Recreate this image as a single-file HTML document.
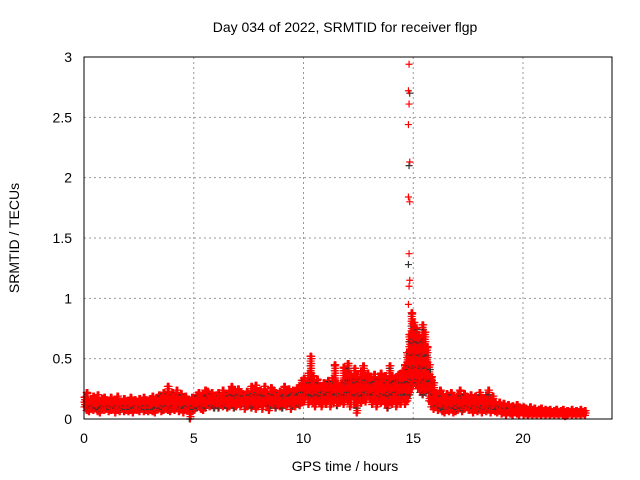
<!DOCTYPE html>
<html><head><meta charset="utf-8"><style>
body{margin:0;background:#fff;}
svg{display:block;font-family:"Liberation Sans",sans-serif;}
</style></head><body>
<svg id="c" width="640" height="480">
<text x="345" y="32" font-size="14" text-anchor="middle">Day 034 of 2022, SRMTID for receiver flgp</text>
<text x="345" y="471" font-size="14" text-anchor="middle">GPS time / hours</text>
<text transform="translate(19,238) rotate(-90)" font-size="14" text-anchor="middle">SRMTID / TECUs</text>
<g id="grid"></g><g id="marks"></g>
<rect x="84" y="57" width="528" height="362" fill="none" stroke="#000"/>
<g id="ticks"></g>
</svg>
<script>
const xTicks=[0,5,10,15,20];
const yTicks=[0,0.5,1,1.5,2,2.5,3];
const yTickLabels=["0","0.5","1","1.5","2","2.5","3"];
const t0=0, dt=0.1;
const lo=[
.10,.07,.06,.08,.07,.09,.06,.05,.08,.07, .08,.06,.07,.08,.05,.07,.06,.08,.06,.07,
.06,.07,.05,.08,.07,.06,.08,.06,.07,.06, .07,.06,.05,.08,.09,.06,.07,.08,.07,.06,
.08,.07,.10,.06,.08,.05,.08,.07,.00,.06, .07,.09,.10,.08,.07,.09,.12,.10,.11,.09,
.11,.09,.12,.10,.11,.09,.10,.12,.09,.10, .12,.10,.13,.08,.10,.12,.09,.11,.08,.10,
.12,.08,.13,.10,.07,.11,.12,.09,.11,.10, .09,.12,.10,.13,.08,.11,.10,.12,.11,.14,
.14,.18,.12,.20,.13,.10,.16,.13,.10,.14, .12,.15,.10,.14,.16,.11,.13,.15,.12,.16,
.14,.10,.18,.12,.05,.15,.13,.16,.14,.18, .16,.12,.15,.10,.17,.13,.15,.12,.09,.14,
.12,.15,.10,.14,.12,.16,.12,.15,.20,.25, .30,.28,.25,.22,.20,.22,.25,.15,.10,.08,
.10,.07,.09,.06,.05,.07,.06,.08,.05,.06, .07,.09,.06,.08,.10,.07,.08,.05,.07,.06,
.08,.05,.07,.06,.08,.05,.07,.06,.05,.07, .04,.05,.03,.05,.04,.03,.05,.04,.03,.05,
.03,.04,.03,.04,.03,.04,.03,.04,.03,.04, .03,.04,.03,.04,.03,.04,.03,.04,.03,.02,
.03,.04,.03,.04,.03,.04,.03,.04,.03];
const hi=[
.18,.22,.15,.17,.19,.16,.20,.14,.17,.18, .16,.15,.18,.14,.16,.19,.15,.14,.17,.15,
.14,.18,.15,.16,.14,.17,.15,.18,.16,.15, .17,.19,.16,.18,.20,.17,.22,.19,.27,.20,
.22,.20,.24,.18,.21,.17,.19,.16,.15,.18, .17,.20,.22,.19,.21,.24,.23,.20,.22,.19,
.20,.22,.19,.24,.21,.20,.23,.27,.24,.22, .25,.22,.21,.18,.23,.21,.27,.22,.28,.23,
.24,.21,.27,.22,.20,.26,.24,.22,.21,.23, .22,.27,.22,.25,.21,.24,.23,.26,.28,.32,
.34,.30,.38,.52,.36,.30,.33,.28,.27,.30, .29,.32,.27,.34,.45,.30,.28,.30,.43,.40,
.46,.38,.35,.42,.37,.33,.40,.44,.36,.38, .35,.33,.37,.32,.34,.38,.30,.36,.33,.44,
.36,.34,.35,.37,.38,.40,.45,.55,.70,.88, .80,.75,.70,.65,.78,.72,.60,.45,.35,.30,
.22,.19,.24,.20,.18,.21,.17,.22,.19,.18, .20,.24,.18,.21,.19,.17,.20,.16,.19,.17,
.22,.18,.17,.20,.24,.16,.19,.14,.12,.14, .11,.13,.10,.12,.10,.11,.09,.12,.10,.09,
.10,.09,.08,.10,.08,.09,.07,.08,.09,.07, .08,.07,.08,.06,.07,.08,.06,.07,.08,.06,
.07,.06,.08,.06,.07,.06,.08,.06,.07];
const spikeVals=[0.95,1.1,1.15,1.28,1.37,1.8,1.84,2.1,2.13,2.44,2.61,2.7,2.72,2.94];
const spikeTime=14.78;
const X=v=>84+v*21.95, Y=v=>419-v*120.67;
const NS="http://www.w3.org/2000/svg";
const g=document.getElementById('grid'),m=document.getElementById('marks'),tk=document.getElementById('ticks');
function mk(tag,attrs,parent){const e=document.createElementNS(NS,tag);for(const k in attrs)e.setAttribute(k,attrs[k]);parent.appendChild(e);return e;}
xTicks.forEach(v=>{
 if(v>0){const l=mk('line',{x1:X(v),x2:X(v),y1:57,y2:419,stroke:'#999','stroke-dasharray':'2,3'},g);
 
 }
 const t=mk('text',{x:X(v),y:443,'font-size':14,'text-anchor':'middle'},tk);t.textContent=v;
 
 
});
yTicks.forEach((v,i)=>{
 if(v>0){const l=mk('line',{x1:84,x2:612,y1:Y(v),y2:Y(v),stroke:'#999','stroke-dasharray':'2,3'},g);
 
 }
 const t=mk('text',{x:72,y:Y(v)+5,'font-size':14,'text-anchor':'end'},tk);t.textContent=yTickLabels[i];
 
 
});
function plus(x,y,col){const p=mk('path',{d:`M${x-3.5} ${y}h7M${x} ${y-3.5}v7`,stroke:col,'stroke-width':1.2,fill:'none'},m);
 
 }
lo.forEach((a,i)=>{
 const t=t0+i*dt,b=hi[i];
 for(let s=0;s<4;s++){const tt=t+s*dt/4;
  for(let v=a+(s%2)*0.02;v<=b;v+=0.04){plus(X(tt),Y(v),(s+Math.round(v*100))%11==0?'#333':'#f00');}
  plus(X(tt),Y(b),'#f00');}
});
spikeVals.forEach((v,i)=>plus(X(spikeTime+(i%3)*0.03),Y(v),i%4==3?'#333':'#f00'));
</script>
</body></html>
